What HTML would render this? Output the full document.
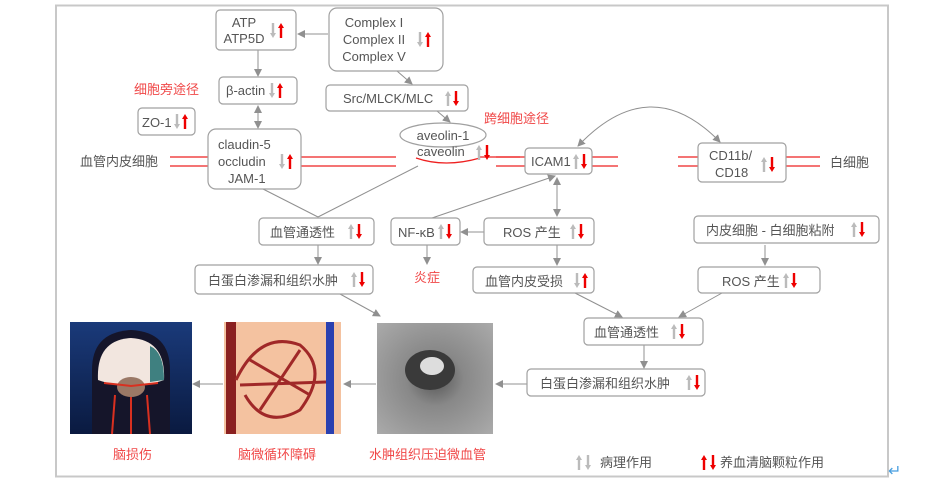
<!DOCTYPE html>
<html><head><meta charset="utf-8"><style>
html,body{margin:0;padding:0;background:#fff;}
svg{display:block;font-family:"Liberation Sans","Noto Sans CJK SC",sans-serif;}
.b{fill:#fff;stroke:#a0a0a0;stroke-width:1.2;}
.t{fill:#555;font-size:13px;}
.r{fill:#f04848;font-size:13px;}
.l{stroke:#909090;stroke-width:1;fill:none;}
.rl{stroke:#ee2020;stroke-width:1.2;}
</style></head><body>
<svg width="950" height="490" viewBox="0 0 950 490">
<defs>
<marker id="m" markerWidth="8" markerHeight="8" refX="7" refY="4" orient="auto" markerUnits="userSpaceOnUse"><path d="M0,0 L8,4 L0,8 Z" fill="#909090"/></marker>
<marker id="ms" markerWidth="8" markerHeight="8" refX="1" refY="4" orient="auto" markerUnits="userSpaceOnUse"><path d="M8,0 L0,4 L8,8 Z" fill="#909090"/></marker>
<symbol id="gu" viewBox="0 0 6 15"><polygon points="3,0 6,5 4.2,5 4.2,15 1.8,15 1.8,5 0,5" fill="#bbb"/></symbol>
<symbol id="gd" viewBox="0 0 6 15"><polygon points="3,15 6,10 4.2,10 4.2,0 1.8,0 1.8,10 0,10" fill="#bbb"/></symbol>
<symbol id="ru" viewBox="0 0 6 15"><polygon points="3,0 6,5 4.2,5 4.2,15 1.8,15 1.8,5 0,5" fill="#e00"/></symbol>
<symbol id="rd" viewBox="0 0 6 15"><polygon points="3,15 6,10 4.2,10 4.2,0 1.8,0 1.8,10 0,10" fill="#e00"/></symbol>
<linearGradient id="g1" x1="0" y1="0" x2="0" y2="1"><stop offset="0" stop-color="#1a3a7a"/><stop offset="1" stop-color="#0a1a40"/></linearGradient>
<radialGradient id="g3" cx=".5" cy=".5" r=".7"><stop offset="0" stop-color="#555"/><stop offset=".35" stop-color="#888"/><stop offset="1" stop-color="#aaa"/></radialGradient>
</defs>
<rect x="56" y="5.5" width="832" height="471" fill="none" stroke="#c8c8c8" stroke-width="2"/>

<!-- red membrane lines -->
<line class="rl" x1="170" y1="157" x2="618" y2="157" stroke="#f07070"/>
<line class="rl" x1="170" y1="166" x2="618" y2="166"/>
<line class="rl" x1="678" y1="157" x2="820" y2="157" stroke="#f07070"/>
<line class="rl" x1="678" y1="166" x2="820" y2="166"/>
<rect x="396" y="152" width="100" height="16" fill="#fff"/>
<path d="M416,158 Q445,168 480,158" class="rl" fill="none"/>
<line class="rl" x1="480" y1="157" x2="520" y2="157" stroke="#f07070"/>

<!-- connectors -->
<line class="l" x1="328" y1="34" x2="298" y2="34" marker-end="url(#m)"/>
<line class="l" x1="258" y1="50" x2="258" y2="76" marker-end="url(#m)"/>
<line class="l" x1="258" y1="106" x2="258" y2="128" marker-end="url(#m)" marker-start="url(#ms)"/>
<line class="l" x1="397" y1="71" x2="412" y2="84" marker-end="url(#m)"/>
<line class="l" x1="437" y1="111" x2="450" y2="122" marker-end="url(#m)"/>
<line class="l" x1="263" y1="189" x2="318" y2="217"/>
<line class="l" x1="418" y1="166" x2="318" y2="217"/>
<line class="l" x1="318" y1="245" x2="318" y2="264" marker-end="url(#m)"/>
<line class="l" x1="340" y1="294" x2="380" y2="316" marker-end="url(#m)"/>
<line class="l" x1="432" y1="218" x2="555" y2="176" marker-end="url(#m)"/>
<line class="l" x1="557" y1="178" x2="557" y2="216" marker-end="url(#m)" marker-start="url(#ms)"/>
<line class="l" x1="484" y1="232" x2="461" y2="232" marker-end="url(#m)"/>
<line class="l" x1="427" y1="245" x2="427" y2="264" marker-end="url(#m)"/>
<line class="l" x1="557" y1="245" x2="557" y2="265" marker-end="url(#m)"/>
<path class="l" d="M578,146 Q650,70 720,142" marker-end="url(#m)" marker-start="url(#ms)"/>
<line class="l" x1="765" y1="245" x2="765" y2="265" marker-end="url(#m)"/>
<line class="l" x1="575" y1="293" x2="622" y2="317" marker-end="url(#m)"/>
<line class="l" x1="722" y1="293" x2="679" y2="317" marker-end="url(#m)"/>
<line class="l" x1="644" y1="345" x2="644" y2="368" marker-end="url(#m)"/>
<line class="l" x1="527" y1="384" x2="496" y2="384" marker-end="url(#m)"/>
<line class="l" x1="376" y1="384" x2="344" y2="384" marker-end="url(#m)"/>
<line class="l" x1="223" y1="384" x2="193" y2="384" marker-end="url(#m)"/>

<!-- boxes -->
<rect class="b" x="216" y="10" width="80" height="40" rx="4"/>
<text class="t" x="244" y="27" text-anchor="middle">ATP</text>
<text class="t" x="244" y="43" text-anchor="middle">ATP5D</text>
<use href="#gd" x="270" y="23" width="6" height="15"/><use href="#ru" x="278" y="23" width="6" height="15"/>

<rect class="b" x="329" y="8" width="114" height="63" rx="8"/>
<text class="t" x="374" y="27" text-anchor="middle">Complex I</text>
<text class="t" x="374" y="44" text-anchor="middle">Complex II</text>
<text class="t" x="374" y="61" text-anchor="middle">Complex V</text>
<use href="#gd" x="417" y="32" width="6" height="15"/><use href="#ru" x="425" y="32" width="6" height="15"/>

<rect class="b" x="219" y="77" width="78" height="27" rx="4"/>
<text class="t" x="226" y="95">β-actin</text>
<use href="#gd" x="269" y="83" width="6" height="15"/><use href="#ru" x="277" y="83" width="6" height="15"/>

<rect class="b" x="326" y="85" width="142" height="26" rx="4"/>
<text class="t" x="343" y="103">Src/MLCK/MLC</text>
<use href="#gu" x="445" y="91" width="6" height="15"/><use href="#rd" x="453" y="91" width="6" height="15"/>

<text class="r" x="134" y="94">细胞旁途径</text>
<rect class="b" x="138" y="108" width="57" height="27" rx="4"/>
<text class="t" x="142" y="127">ZO-1</text>
<use href="#gd" x="174" y="114" width="6" height="15"/><use href="#ru" x="182" y="114" width="6" height="15"/>

<rect class="b" x="208" y="129" width="93" height="60" rx="8"/>
<text class="t" x="218" y="149">claudin-5</text>
<text class="t" x="218" y="166">occludin</text>
<text class="t" x="228" y="183">JAM-1</text>
<use href="#gd" x="279" y="154" width="6" height="15"/><use href="#ru" x="287" y="154" width="6" height="15"/>

<text class="t" x="80" y="166">血管内皮细胞</text>

<ellipse cx="443" cy="135" rx="43" ry="12" fill="#fff" stroke="#a0a0a0" stroke-width="1.2"/>
<text class="t" x="443" y="140" text-anchor="middle">aveolin-1</text>
<text class="t" x="417" y="156">caveolin</text>
<use href="#gu" x="476" y="145" width="6" height="15"/><use href="#rd" x="484" y="145" width="6" height="15"/>
<text class="r" x="484" y="123">跨细胞途径</text>

<rect class="b" x="525" y="148" width="67" height="26" rx="4"/>
<text class="t" x="531" y="166">ICAM1</text>
<use href="#gu" x="573" y="154" width="6" height="15"/><use href="#rd" x="581" y="154" width="6" height="15"/>

<rect class="b" x="698" y="143" width="88" height="39" rx="4"/>
<text class="t" x="709" y="160">CD11b/</text>
<text class="t" x="715" y="177">CD18</text>
<use href="#gu" x="761" y="157" width="6" height="15"/><use href="#rd" x="769" y="157" width="6" height="15"/>
<text class="t" x="830" y="167">白细胞</text>

<rect class="b" x="259" y="218" width="115" height="27" rx="4"/>
<text class="t" x="270" y="237">血管通透性</text>
<use href="#gu" x="348" y="224" width="6" height="15"/><use href="#rd" x="356" y="224" width="6" height="15"/>

<rect class="b" x="391" y="218" width="69" height="27" rx="4"/>
<text class="t" x="398" y="237">NF-κB</text>
<use href="#gu" x="438" y="224" width="6" height="15"/><use href="#rd" x="446" y="224" width="6" height="15"/>
<text class="r" x="414" y="282">炎症</text>

<rect class="b" x="484" y="218" width="110" height="27" rx="4"/>
<text class="t" x="503" y="237">ROS 产生</text>
<use href="#gu" x="570" y="224" width="6" height="15"/><use href="#rd" x="578" y="224" width="6" height="15"/>

<rect class="b" x="694" y="216" width="185" height="27" rx="4"/>
<text class="t" x="706" y="235">内皮细胞 - 白细胞粘附</text>
<use href="#gu" x="851" y="222" width="6" height="15"/><use href="#rd" x="859" y="222" width="6" height="15"/>

<rect class="b" x="195" y="265" width="178" height="29" rx="4"/>
<text class="t" x="208" y="285">白蛋白渗漏和组织水肿</text>
<use href="#gu" x="351" y="272" width="6" height="15"/><use href="#rd" x="359" y="272" width="6" height="15"/>

<rect class="b" x="473" y="267" width="121" height="26" rx="4"/>
<text class="t" x="485" y="286">血管内皮受损</text>
<use href="#gd" x="574" y="273" width="6" height="15"/><use href="#ru" x="582" y="273" width="6" height="15"/>

<rect class="b" x="698" y="267" width="122" height="26" rx="4"/>
<text class="t" x="722" y="286">ROS 产生</text>
<use href="#gu" x="783" y="273" width="6" height="15"/><use href="#rd" x="791" y="273" width="6" height="15"/>

<rect class="b" x="584" y="318" width="119" height="27" rx="4"/>
<text class="t" x="594" y="337">血管通透性</text>
<use href="#gu" x="671" y="324" width="6" height="15"/><use href="#rd" x="679" y="324" width="6" height="15"/>

<rect class="b" x="527" y="369" width="178" height="27" rx="4"/>
<text class="t" x="540" y="388">白蛋白渗漏和组织水肿</text>
<use href="#gu" x="686" y="375" width="6" height="15"/><use href="#rd" x="694" y="375" width="6" height="15"/>

<!-- images -->
<rect x="70" y="322" width="122" height="112" fill="url(#g1)"/>
<path d="M92,434 L92,370 Q92,332 131,330 Q170,332 170,370 L170,434 Z" fill="#15152a"/>
<path d="M98,380 Q96,340 131,338 Q166,340 164,380 Q131,392 98,380Z" fill="#f2e6df"/>
<path d="M150,346 Q164,352 164,380 L150,382Z" fill="#3f8080"/>
<ellipse cx="131" cy="387" rx="14" ry="10" fill="#9a7866"/>
<path d="M112,434 L115,395 M150,434 L147,395 M131,434 L131,397 M104,383 L131,386 L158,383" stroke="#d83020" stroke-width="2" fill="none"/>
<rect x="224" y="322" width="117" height="112" fill="#f4c2a0"/>
<rect x="226" y="322" width="10" height="112" fill="#8a2020"/>
<rect x="326" y="322" width="8" height="112" fill="#2a40b0"/>
<path d="M236,380 Q260,330 300,345 Q330,370 300,410 Q265,430 245,395 M250,360 L310,395 M260,410 L300,350 M240,385 L326,382" stroke="#a02828" stroke-width="3" fill="none"/>
<rect x="377" y="323" width="116" height="111" fill="url(#g3)"/>
<ellipse cx="430" cy="370" rx="25" ry="20" fill="#3a3a3a"/>
<ellipse cx="432" cy="366" rx="12" ry="9" fill="#ddd"/>

<text class="r" x="113" y="459" font-size="13">脑损伤</text>
<text class="r" x="238" y="459">脑微循环障碍</text>
<text class="r" x="369" y="459">水肿组织压迫微血管</text>

<use href="#gu" x="576" y="455" width="6" height="15"/><use href="#gd" x="585" y="455" width="6" height="15"/>
<text class="t" x="600" y="467" font-size="14">病理作用</text>
<use href="#ru" x="701" y="455" width="6" height="15"/><use href="#rd" x="710" y="455" width="6" height="15"/>
<text class="t" x="720" y="467" font-size="14">养血清脑颗粒作用</text>
<text x="888" y="476" fill="#4aa0e0" font-size="16">↵</text>
</svg>
</body></html>
